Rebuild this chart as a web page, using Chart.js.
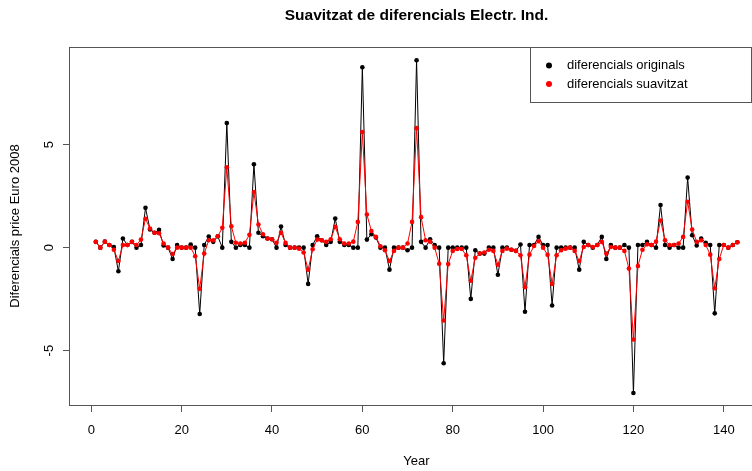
<!DOCTYPE html>
<html>
<head>
<meta charset="utf-8">
<script src="https://cdn.jsdelivr.net/npm/chart.js@4"></script>
<style>
  html, body { margin: 0; padding: 0; background: #fff; overflow: hidden; }
  #wrap { width: 752px; height: 471px; overflow: hidden; }
</style>
</head>
<body>
<div id="wrap"><canvas id="chart" width="780" height="471"></canvas></div>
<script>
const titleText = "Suavitzat de diferencials Electr. Ind.";
const xTitle = "Year";
const yTitle = "Diferencials price Euro 2008";
const legendLabels = ["diferencials originals", "diferencials suavitzat"];
const xTicks = [0, 20, 40, 60, 80, 100, 120, 140];
const yTicks = [-5, 0, 5];

// index 1..143
const years = Array.from({ length: 143 }, (_, i) => i + 1);

const original = [
  0.28, 0, 0.29, 0.13, 0.03, -1.15, 0.44, 0.13, 0.28, 0,
  0.13, 1.93, 0.88, 0.72, 0.86, 0.1, 0, -0.55, 0.13, 0,
  0, 0.15, 0, -3.22, 0.13, 0.54, 0.28, 0.55, 0, 6.05,
  0.28, 0, 0.13, 0.13, 0, 4.05, 0.72, 0.55, 0.44, 0.41,
  0, 1.02, 0.13, 0, 0, 0, 0, -1.76, 0.13, 0.55,
  0.36, 0.13, 0.28, 1.41, 0.28, 0.13, 0.13, 0, 0, 8.76,
  0.39, 0.65, 0.49, 0, 0, -1.07, 0, 0, 0, -0.13,
  0, 9.1, 0.28, 0, 0.41, 0.13, 0, -5.61, 0, 0,
  0, 0, 0, -2.49, -0.13, -0.29, -0.29, 0, 0, -1.32,
  0, 0, -0.1, -0.16, 0.15, -3.11, 0.13, 0.13, 0.52, 0.13,
  0.13, -2.81, 0, 0, 0, 0, 0, -1.07, 0.28, 0.13,
  0, 0.13, 0.52, -0.55, 0.13, 0, 0, 0.13, 0, -7.06,
  0.13, 0.13, 0.28, 0.13, 0, 2.07, 0.13, 0, 0.13, 0,
  0, 3.4, 0.6, 0.1, 0.44, 0.24, 0.13, -3.19, 0.13, 0.13,
  0, 0.13, 0.26
];

const smoothed = [
  0.28, 0, 0.29, 0.13, -0.1, -0.65, 0.13, 0.13, 0.28, 0.13,
  0.39, 1.4, 0.93, 0.72, 0.7, 0.2, 0, -0.31, 0, 0,
  0, 0, -0.42, -2.0, -0.29, 0.36, 0.36, 0.55, 0.96, 3.9,
  1.04, 0.24, 0.2, 0.24, 0.62, 2.7, 1.12, 0.65, 0.44, 0.41,
  0.24, 0.72, 0.23, 0, 0, -0.05, -0.24, -1.07, -0.08, 0.39,
  0.36, 0.28, 0.41, 1.01, 0.41, 0.2, 0.2, 0.29, 1.25, 5.61,
  1.61, 0.81, 0.52, 0.07, -0.13, -0.65, -0.16, 0, 0, 0.2,
  1.25, 5.8, 1.48, 0.36, 0.29, 0, -0.78, -3.54, -0.8, -0.16,
  -0.07, -0.07, -0.37, -1.61, -0.49, -0.29, -0.24, -0.1, -0.16, -0.83,
  -0.16, -0.05, -0.1, -0.16, -0.37, -1.92, -0.34, 0.08, 0.31, 0,
  -0.35, -1.76, -0.37, -0.13, -0.05, 0, -0.16, -0.65, 0.03, 0.13,
  0.03, 0.13, 0.28, -0.29, 0.03, 0, 0, -0.16, -1.01, -4.46,
  -0.89, -0.1, 0.16, 0.13, 0.29, 1.32, 0.36, 0.13, 0.13, 0.2,
  0.52, 2.23, 0.88, 0.28, 0.36, 0.13, -0.34, -1.97, -0.55, 0.13,
  0, 0.13, 0.26
];

const FONT = "'Liberation Sans', Arial, Helvetica, sans-serif";
const AXIS_COLOR = "#555";

const toPoints = (vals) => vals.map((v, i) => ({ x: years[i], y: v }));

// R-style decorations: box, titles, rotated y labels, legend
const rDecor = {
  id: "rDecor",
  beforeDraw(chart) {
    const ctx = chart.ctx;
    ctx.save();
    ctx.fillStyle = "#fff";
    ctx.fillRect(0, 0, chart.width, chart.height);
    ctx.restore();
  },
  afterDraw(chart) {
    const ctx = chart.ctx;
    const a = chart.chartArea;
    const ys = chart.scales.y;
    ctx.save();

    // plot box
    ctx.strokeStyle = AXIS_COLOR;
    ctx.lineWidth = 1;
    ctx.strokeRect(Math.round(a.left) - 0.5, Math.round(a.top) + 0.5,
      Math.round(a.right - a.left), Math.round(a.bottom - a.top));

    ctx.fillStyle = "#000";
    // main title
    ctx.font = "bold 15.5px " + FONT;
    ctx.textAlign = "center";
    ctx.textBaseline = "middle";
    ctx.fillText(titleText, (a.left + a.right) / 2, 16);

    // x title
    ctx.font = "13px " + FONT;
    ctx.fillText(xTitle, (a.left + a.right) / 2, 461);

    // y title and rotated y tick labels
    ctx.save();
    ctx.translate(15, (a.top + a.bottom) / 2);
    ctx.rotate(-Math.PI / 2);
    ctx.fillText(yTitle, 0, 0);
    ctx.restore();
    yTicks.forEach(v => {
      ctx.save();
      ctx.translate(49, ys.getPixelForValue(v));
      ctx.rotate(-Math.PI / 2);
      ctx.fillText(String(v), 0, 0);
      ctx.restore();
    });

    // legend
    const lx = 530, ly = 47, lw = 221, lh = 55;
    ctx.strokeStyle = AXIS_COLOR;
    ctx.strokeRect(lx + 0.5, ly + 0.5, lw, lh);
    const colors = ["#000000", "#ff0000"];
    legendLabels.forEach((t, i) => {
      const y = 65.5 + i * 18.5;
      ctx.fillStyle = colors[i];
      ctx.beginPath();
      ctx.arc(549, y, 3, 0, Math.PI * 2);
      ctx.fill();
      ctx.fillStyle = "#000";
      ctx.textAlign = "left";
      ctx.fillText(t, 567, y);
    });
    ctx.restore();
  }
};

new Chart(document.getElementById("chart"), {
  type: "line",
  data: {
    datasets: [
      {
        label: legendLabels[0],
        data: toPoints(original),
        borderColor: "#000000",
        backgroundColor: "#000000",
        borderWidth: 1,
        pointRadius: 2.3,
        pointBorderWidth: 0,
        pointBackgroundColor: "#000000",
        tension: 0,
        order: 1
      },
      {
        label: legendLabels[1],
        data: toPoints(smoothed),
        borderColor: "#ff0000",
        backgroundColor: "#ff0000",
        borderWidth: 1,
        pointRadius: 2.3,
        pointBorderWidth: 0,
        pointBackgroundColor: "#ff0000",
        tension: 0,
        order: 0
      }
    ]
  },
  options: {
    responsive: false,
    animation: false,
    events: [],
    layout: { padding: { left: 0, right: 17, top: 47, bottom: 0 } },
    plugins: {
      legend: { display: false },
      title: { display: false },
      tooltip: { enabled: false }
    },
    scales: {
      x: {
        type: "linear",
        min: -4.71,
        max: 148.68,
        afterBuildTicks: (s) => { s.ticks = xTicks.map(v => ({ value: v })); },
        afterFit: (s) => { s.height = 66; },
        border: { display: false },
        grid: { drawOnChartArea: false, drawTicks: true, tickLength: 7, color: AXIS_COLOR },
        ticks: { color: "#000", font: { family: FONT, size: 13 }, padding: 11, maxRotation: 0, autoSkip: false }
      },
      y: {
        type: "linear",
        min: -7.64,
        max: 9.74,
        afterBuildTicks: (s) => { s.ticks = yTicks.map(v => ({ value: v })); },
        afterFit: (s) => { s.width = 70; },
        border: { display: false },
        grid: { drawOnChartArea: false, drawTicks: true, tickLength: 7, color: AXIS_COLOR },
        ticks: { color: "rgba(0,0,0,0)", font: { family: FONT, size: 13 } }
      }
    }
  },
  plugins: [rDecor]
});
</script>
</body>
</html>
